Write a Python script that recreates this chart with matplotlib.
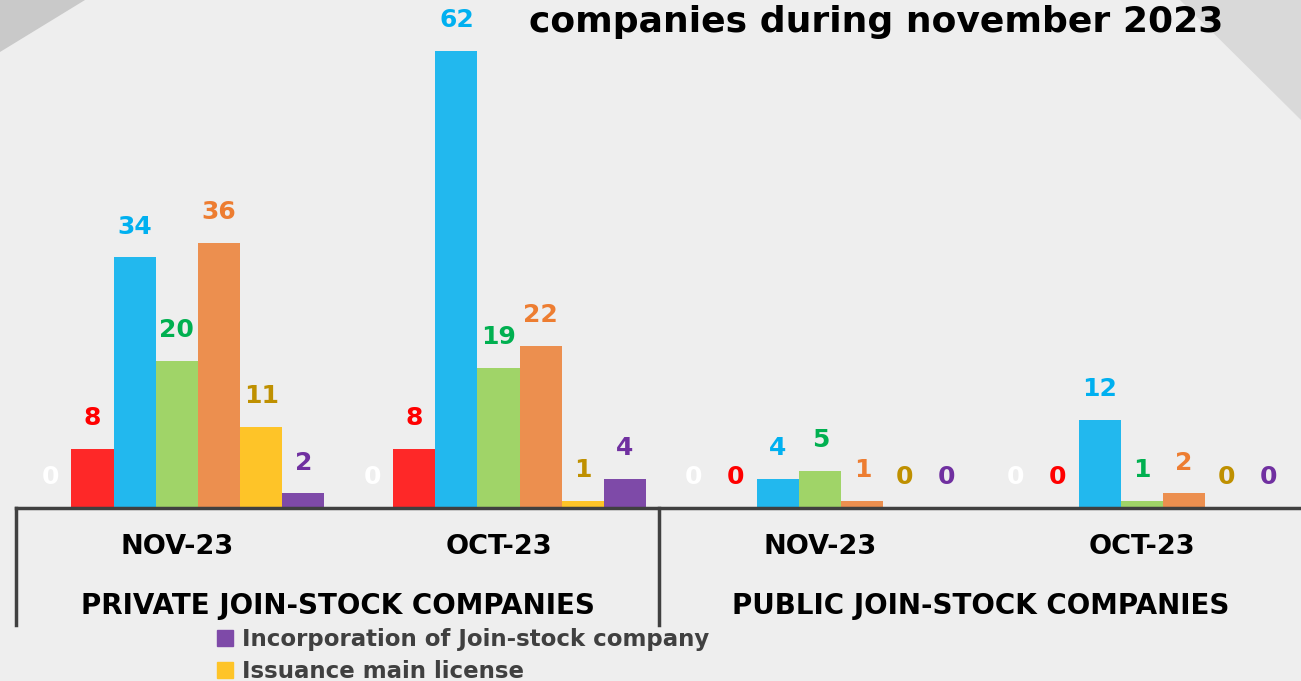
import matplotlib.pyplot as plt
from matplotlib.patches import Patch, Polygon

plt.rcParams["font.family"] = ["DejaVu Sans"]

# data
months = ["NOV-23", "OCT-23", "NOV-23", "OCT-23"]
company_types = ["PRIVATE JOIN-STOCK COMPANIES", "PUBLIC JOIN-STOCK COMPANIES"]

series_a = [0, 0, 0, 0]
series_b = [8, 8, 0, 0]
series_c = [34, 62, 4, 12]
series_d = [20, 19, 5, 1]
series_e = [36, 22, 1, 2]
issuance = [11, 1, 0, 0]
incorporation = [2, 4, 0, 0]

series = [series_a, series_b, series_c, series_d, series_e, issuance, incorporation]
bar_colors = ["#ffffff", "#fe2828", "#22b8ee", "#a0d468", "#ec8f4f", "#fec428", "#7e4aa8"]
text_colors = ["#ffffff", "#ff0000", "#00b0f0", "#00b050", "#ed7d31", "#bf9000", "#7030a0"]

W, H = 1301, 681
fig = plt.figure(figsize=(W / 100, H / 100), dpi=100)
fig.patch.set_facecolor("#eeeeee")

# background shapes
bg = fig.add_axes([0, 0, 1, 1], zorder=-5)
bg.set_xlim(0, W)
bg.set_ylim(H, 0)
bg.axis("off")
bg.add_patch(Polygon([[0, 0], [85, 0], [0, 52]], color="#c9c9c9", lw=0))
bg.add_patch(Polygon([[1180, 0], [W, 0], [W, 120]], color="#d9d9d9", lw=0))

ax = fig.add_axes([16 / W, 173 / H, 1285 / W, 508 / H])
ax.set_facecolor("none")
ax.set_xlim(-0.5, -0.5 + 1285 / 321.7)
ax.set_ylim(0, 508 / 7.37)
ax.axis("off")

width = 0.131
x = list(range(len(months)))
for i, vals in enumerate(series):
    pos = [g + (i - 3) * width for g in x]
    ax.bar(pos, vals, width=width, color=bar_colors[i], edgecolor="none")
    for p, v in zip(pos, vals):
        ax.annotate(str(v), (p, v), xytext=(0, 13.5), textcoords="offset points",
                    ha="center", va="bottom", fontsize=18, fontweight="bold",
                    color=text_colors[i])

# category box
ax.axhline(0, color="#404040", lw=2.5, clip_on=False)
for xv in [-0.5, 1.5]:
    ax.plot([xv, xv], [0, -15.9], color="#404040", lw=2.5, clip_on=False)

for g, m in zip(x, months):
    ax.text(g, -5.3, m, ha="center", va="center", fontsize=19.5, fontweight="bold",
            color="black", clip_on=False)
for k, name in enumerate(company_types):
    ax.text(0.5 + 2 * k, -13.3, name, ha="center", va="center", fontsize=20,
            fontweight="bold", color="black", clip_on=False)

fig.text(876 / W, 1 - 22 / H, "companies during november 2023", ha="center",
         va="center", fontsize=26, fontweight="bold", color="black")

handles = [Patch(color=bar_colors[6]), Patch(color=bar_colors[5])]
labels = ["Incorporation of Join-stock company", "Issuance main license"]
leg = fig.legend(handles, labels, loc="upper left", bbox_to_anchor=(196 / W, 1 - 607 / H),
                 frameon=False, handlelength=0.7, handleheight=0.7, handletextpad=0.4,
                 labelspacing=0.4, prop={"size": 16.5, "weight": "bold"},
                 labelcolor="#404040")

fig.savefig("out.png", dpi=100, facecolor=fig.get_facecolor())
